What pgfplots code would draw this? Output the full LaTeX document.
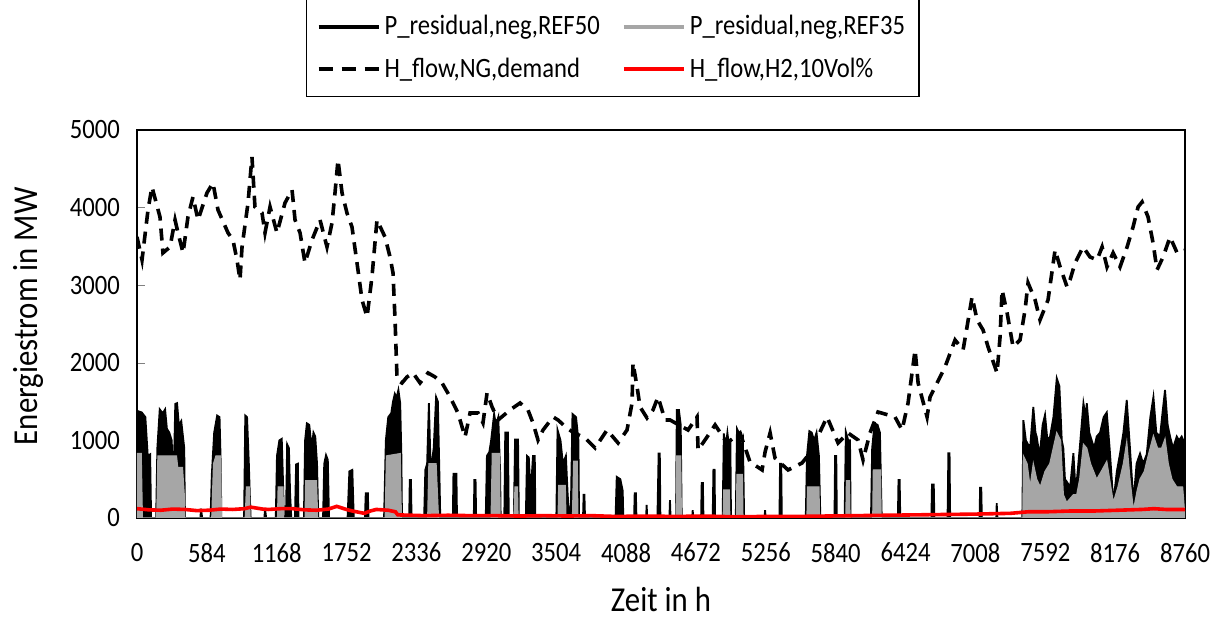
\documentclass[border=0pt]{standalone}
\usepackage{pgfplots}
\pgfplotsset{compat=1.18}
\usepackage{fontspec}
\setmainfont{Carlito}[FakeStretch=0.88]
\definecolor{refgray}{HTML}{A6A6A6}
\definecolor{h2red}{HTML}{FF0000}

\begin{document}
\begin{tikzpicture}
\begin{axis}[
  name=ax,
  scale only axis,
  width=524pt,height=194pt,
  xmin=0,xmax=8760,ymin=0,ymax=5000,
  xtick={0,584,...,8760},
  ytick={0,1000,...,5000},
  /pgf/number format/assume math mode=true,
  /pgf/number format/set thousands separator={},
  tick label style={font=\fontsize{14}{16}\selectfont},
  xticklabel style={yshift=-9pt},
  yticklabel style={xshift=-5pt},
  x tick style={draw=none},
  ytick pos=left,
  tick align=inside,
  major tick length=4pt,
  axis line style={line width=0.8pt},
  xlabel={Zeit in h},
  ylabel={Energiestrom in MW},
  every axis x label/.style={at={(rel axis cs:0.5,0)},yshift=-40.5pt,anchor=center,
    inner sep=1pt,font=\fontsize{17.5}{19}\selectfont},
  every axis y label/.style={at={(rel axis cs:0,0.52)},xshift=-54.5pt,rotate=90,anchor=center,
    inner sep=1pt,font=\fontsize{17.5}{19}\selectfont},
  legend columns=2,
  legend cell align=left,
  legend style={at={(0.454,1)},anchor=south,yshift=16.5pt,draw=black,line width=0.6pt,
    font=\fontsize{14}{16}\selectfont,inner xsep=5pt,inner ysep=6pt,
    /tikz/every even column/.append style={column sep=9pt},
    row sep=6pt},
  legend image code/.code={\draw[#1] (0pt,0pt) -- (30pt,0pt);},
]
\addlegendimage{black,line width=2pt}
\addlegendentry{P\_residual,neg,REF50}
\addlegendimage{refgray,line width=2pt}
\addlegendentry{P\_residual,neg,REF35}
\addlegendimage{black,line width=2pt,dash pattern=on 7pt off 4.5pt}
\addlegendentry{H\_flow,NG,demand}
\addlegendimage{h2red,line width=2pt}
\addlegendentry{H\_flow,H2,10Vol\%}

% negative residual load, REF50
\addplot[forget plot,black,line width=0.9pt,fill=black] coordinates {
(0,0)(3,1380)(40,1360)(70,1300)(90,800)(110,820)(118,0)
(160,0)(170,900)(190,1400)(215,1350)(235,1400)(250,1150)(270,1100)(290,1000)(305,400)(320,1470)(335,1480)(350,1200)(370,1250)(395,900)(401,0)
(530,0)(535,120)(545,0)
(615,0)(625,550)(645,1100)(670,1320)(690,1300)(700,700)(705,0)
(895,0)(905,1320)(920,1300)(935,700)(945,200)(950,0)
(1065,0)(1070,120)(1080,0)
(1160,0)(1170,800)(1190,1000)(1210,1020)(1220,500)(1228,0)
(1245,0)(1255,950)(1270,900)(1280,300)(1290,0)
(1320,0)(1330,690)(1345,700)(1350,0)
(1395,0)(1405,1000)(1420,1220)(1440,1200)(1460,900)(1475,1100)(1490,1050)(1505,700)(1515,0)
(1555,0)(1565,700)(1580,810)(1595,750)(1605,0)
(1760,0)(1775,600)(1800,620)(1812,0)
(1905,0)(1912,320)(1930,320)(1935,0)
(2065,0)(2080,1000)(2100,1300)(2125,1350)(2140,1500)(2155,1600)(2170,1550)(2185,1650)(2200,1480)(2210,800)(2215,0)
(2275,0)(2280,490)(2290,490)(2295,0)
(2400,0)(2410,620)(2425,700)(2440,1480)(2455,600)(2480,900)(2500,1560)(2515,1500)(2530,400)(2535,0)
(2640,0)(2645,570)(2670,570)(2675,0)
(2815,0)(2820,490)(2830,490)(2835,0)
(2915,0)(2925,800)(2945,850)(2960,1000)(2985,1340)(3000,1200)(3020,1300)(3035,600)(3040,0)
(3070,0)(3078,1100)(3100,1100)(3108,0)
(3150,0)(3160,1010)(3185,1010)(3192,0)
(3250,0)(3260,800)(3275,780)(3290,300)(3310,800)(3325,800)(3330,0)
(3505,0)(3515,1135)(3540,1000)(3560,700)(3585,800)(3600,300)(3615,0)
(3625,0)(3640,1340)(3670,1300)(3690,1000)(3695,0)
(3728,0)(3733,300)(3740,300)(3745,0)
(4000,0)(4010,530)(4040,500)(4060,350)(4065,0)
(4155,0)(4160,320)(4170,320)(4175,0)
(4255,0)(4260,170)(4265,0)
(4350,0)(4360,830)(4370,830)(4375,0)
(4450,0)(4455,230)(4460,0)
(4505,0)(4512,1390)(4530,1390)(4545,1200)(4553,0)
(4640,0)(4645,100)(4650,0)
(4715,0)(4720,450)(4730,450)(4735,0)
(4812,0)(4818,620)(4828,620)(4832,0)
(4895,0)(4905,1090)(4920,900)(4935,1100)(4950,900)(4960,1000)(4965,0)
(5005,0)(5015,1150)(5030,1100)(5050,900)(5065,1000)(5075,0)
(5245,0)(5250,100)(5255,0)
(5370,0)(5375,700)(5385,700)(5390,0)
(5590,0)(5600,800)(5620,1120)(5640,1100)(5660,1000)(5680,1100)(5700,800)(5712,0)
(5830,0)(5835,800)(5845,800)(5850,0)
(5915,0)(5925,1110)(5945,1000)(5960,1000)(5965,0)
(6135,0)(6145,900)(6165,1220)(6190,1200)(6210,1100)(6225,0)
(6360,0)(6365,490)(6375,490)(6380,0)
(6640,0)(6645,430)(6660,430)(6665,0)
(6775,0)(6782,834)(6792,834)(6797,0)
(7043,0)(7047,390)(7057,390)(7062,0)
(7183,0)(7186,190)(7192,0)
(7400,0)(7409,1260)(7430,1000)(7465,900)(7492,1430)(7510,1100)(7520,1050)(7545,800)(7570,1200)(7590,1330)(7610,1000)(7632,1050)(7660,1300)(7688,1800)(7710,1700)(7730,1000)(7743,900)(7760,400)(7771,470)(7800,400)(7827,834)(7840,500)(7855,470)(7880,900)(7911,1480)(7930,1300)(7939,1480)(7960,1100)(7980,1000)(8000,900)(8022,1050)(8050,1100)(8080,1300)(8106,1360)(8130,900)(8161,200)(8190,600)(8217,830)(8245,1100)(8273,1520)(8300,900)(8329,200)(8355,700)(8384,830)(8410,700)(8440,820)(8470,1300)(8496,1560)(8520,1100)(8551,1050)(8575,1400)(8593,1650)(8615,1200)(8635,1050)(8660,900)(8691,1050)(8710,1000)(8732,1050)(8746,1000)(8755,300)(8760,0)
};

% negative residual load, REF35
\addplot[forget plot,refgray,line width=0.6pt,fill=refgray] coordinates {
(0,0)(5,830)(35,830)(45,0)
(165,0)(175,800)(330,800)(340,650)(380,650)(395,300)(400,0)
(625,0)(640,700)(660,800)(700,800)(705,0)
(905,0)(915,400)(940,400)(945,0)
(1175,0)(1180,400)(1220,400)(1225,0)
(1405,0)(1410,480)(1500,480)(1510,0)
(2075,0)(2085,800)(2200,830)(2210,0)
(2430,0)(2440,700)(2500,700)(2520,0)
(2960,0)(2970,830)(3030,830)(3035,0)
(3150,0)(3160,400)(3180,400)(3185,0)
(3520,0)(3525,420)(3580,420)(3585,0)
(3640,0)(3650,730)(3680,730)(3685,0)
(4505,0)(4510,800)(4545,800)(4550,0)
(4900,0)(4905,360)(4950,360)(4955,0)
(5010,0)(5015,560)(5060,560)(5065,0)
(5600,0)(5605,400)(5700,400)(5705,0)
(5925,0)(5930,480)(5955,480)(5960,0)
(6150,0)(6155,620)(6215,620)(6220,0)
(7405,0)(7409,800)(7440,700)(7465,400)(7492,700)(7520,500)(7550,400)(7590,600)(7630,700)(7688,1100)(7720,1000)(7743,300)(7771,200)(7827,300)(7855,300)(7880,500)(7911,950)(7939,900)(7970,700)(8022,500)(8060,600)(8106,730)(8140,400)(8161,200)(8200,400)(8245,700)(8273,980)(8300,500)(8329,100)(8360,350)(8384,500)(8420,600)(8460,850)(8496,1060)(8530,900)(8565,900)(8593,1020)(8620,700)(8650,500)(8691,400)(8740,400)(8760,0)
};

% natural gas demand
\addplot[forget plot,black,line width=1.8pt,dash pattern=on 6pt off 4pt] coordinates {
(0,3622)(42,3326)(92,3970)(125,4267)(192,3880)(217,3416)(276,3493)(318,3841)(343,3674)(385,3416)(426,3880)(468,4138)(510,3841)(585,4189)(635,4318)(677,3970)(761,3674)(802,3583)(836,3326)(861,3068)(878,3493)(928,4060)(961,4653)(986,4009)(1045,3931)(1070,3674)(1112,4009)(1170,3674)(1237,4060)(1296,4228)(1321,3841)(1363,3674)(1404,3287)(1463,3583)(1530,3841)(1588,3493)(1630,3803)(1655,4189)(1680,4615)(1714,4189)(1755,3931)(1797,3751)(1847,3197)(1881,2810)(1923,2591)(1964,3107)(2006,3841)(2073,3622)(2115,3364)(2140,3158)(2157,2552)(2174,1779)(2215,1740)(2257,1818)(2307,1869)(2366,1740)(2433,1869)(2491,1818)(2550,1740)(2617,1560)(2683,1353)(2742,1044)(2784,1353)(2851,1353)(2892,1225)(2926,1611)(2968,1431)(3018,1263)(3118,1392)(3202,1482)(3268,1392)(3310,1225)(3352,1005)(3394,1134)(3478,1302)(3519,1263)(3600,1150)(3650,1100)(3745,1031)(3829,902)(3929,1134)(4021,967)(4096,1134)(4138,1482)(4146,1998)(4180,1689)(4205,1431)(4263,1289)(4313,1392)(4355,1560)(4414,1263)(4455,1263)(4606,1134)(4681,1302)(4690,876)(4765,1044)(4832,1199)(4932,967)(5041,1096)(5124,722)(5225,619)(5250,851)(5292,1096)(5333,773)(5442,619)(5559,709)(5626,838)(5768,1302)(5860,967)(5943,1096)(6027,1005)(6069,748)(6127,1096)(6194,1366)(6336,1302)(6395,1134)(6445,1482)(6504,2166)(6529,1740)(6604,1302)(6629,1560)(6688,1740)(6754,1946)(6838,2294)(6905,2166)(6938,2462)(6980,2849)(7022,2552)(7072,2423)(7114,2204)(7189,1869)(7214,2333)(7231,2939)(7273,2642)(7323,2204)(7381,2294)(7423,2681)(7448,3029)(7507,2810)(7548,2552)(7615,2810)(7674,3455)(7716,3236)(7774,2978)(7799,3068)(7841,3287)(7908,3493)(7966,3364)(8025,3326)(8067,3493)(8108,3236)(8159,3416)(8217,3236)(8276,3493)(8326,3751)(8368,4009)(8401,4073)(8451,3880)(8493,3545)(8526,3197)(8577,3364)(8635,3622)(8694,3416)(8760,3450)
};

% hydrogen flow at 10 Vol%
\addplot[forget plot,h2red,line width=1.8pt] coordinates {
(0,120)(100,105)(200,100)(300,115)(400,110)(500,95)(600,100)(700,115)(800,110)(900,120)(950,140)(1050,115)(1100,110)(1200,120)(1300,120)(1400,105)(1500,100)(1600,115)(1670,150)(1750,110)(1800,90)(1900,60)(1950,90)(2000,110)(2100,100)(2160,80)(2180,40)(2300,35)(2400,30)(2600,35)(2800,30)(3000,30)(3200,25)(3400,30)(3600,25)(3800,30)(4000,20)(4250,25)(4500,20)(4750,25)(5000,15)(5250,20)(5500,20)(5750,25)(6000,30)(6250,35)(6500,40)(6750,45)(7000,50)(7300,60)(7450,80)(7600,80)(7800,90)(8000,90)(8200,100)(8400,110)(8500,120)(8600,110)(8760,110)
};
\end{axis}
\pgfresetboundingbox
\path ([xshift=-68.5pt,yshift=-53pt]ax.south west) rectangle ([xshift=20.5pt,yshift=65pt]ax.north east);
\end{tikzpicture}
\end{document}
